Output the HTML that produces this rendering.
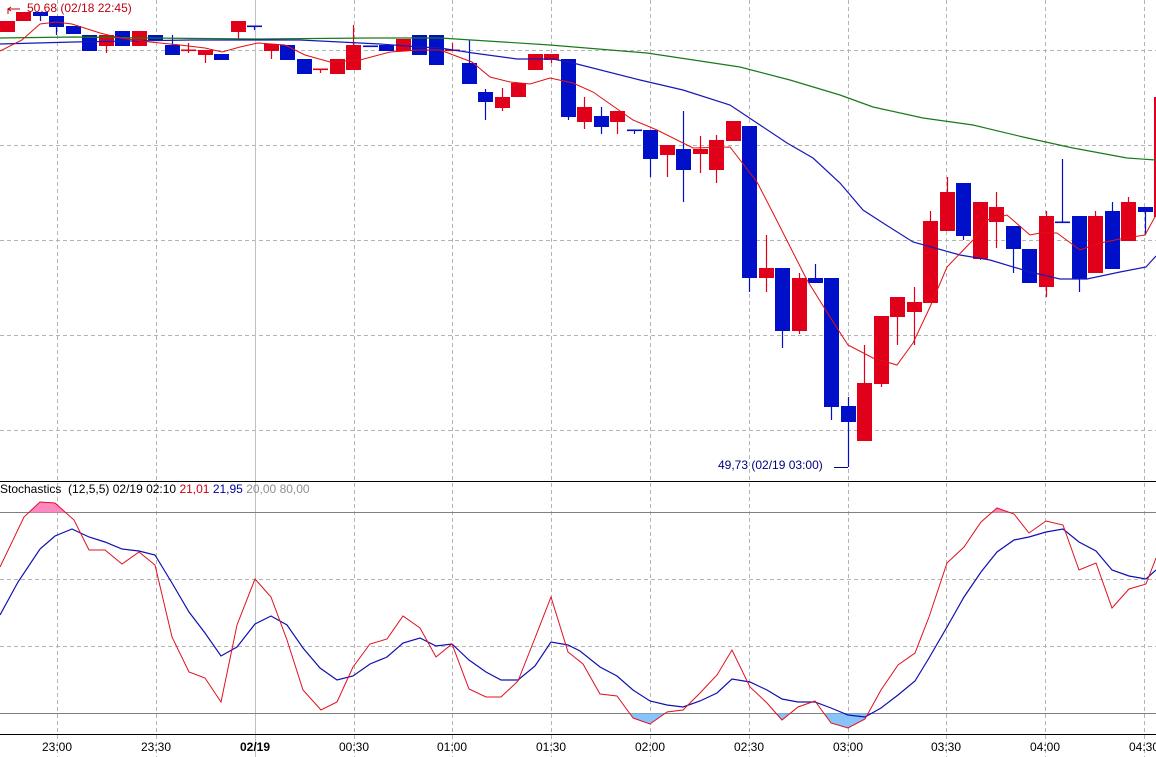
<!DOCTYPE html>
<html><head><meta charset="utf-8"><style>
html,body{margin:0;padding:0;background:#fff;overflow:hidden}
svg{display:block}
text{font-family:"Liberation Sans","DejaVu Sans",sans-serif}
</style></head><body>
<svg id="s" width="1156" height="757" viewBox="0 0 1156 757" xmlns="http://www.w3.org/2000/svg">
<rect width="1156" height="757" fill="#fff"/>
<g id="grid" stroke="#b4b4b4" stroke-width="1" stroke-dasharray="4,3" fill="none">
<line x1="0" y1="50.5" x2="1156" y2="50.5"/>
<line x1="0" y1="145.5" x2="1156" y2="145.5"/>
<line x1="0" y1="240.5" x2="1156" y2="240.5"/>
<line x1="0" y1="335.5" x2="1156" y2="335.5"/>
<line x1="0" y1="430.5" x2="1156" y2="430.5"/>
<line x1="0" y1="579.5" x2="1156" y2="579.5"/>
<line x1="0" y1="646.5" x2="1156" y2="646.5"/>
</g>
<g id="vg"></g>
<line x1="0" y1="512.5" x2="1156" y2="512.5" stroke="#808080"/>
<line x1="0" y1="713.5" x2="1156" y2="713.5" stroke="#808080"/>
<g id="fills"></g>
<g id="candles"></g>
<g id="lines" fill="none"></g>
<line x1="0" y1="481.5" x2="1156" y2="481.5" stroke="#000"/>
<line x1="0" y1="734.5" x2="1156" y2="734.5" stroke="#000"/>
<text x="0" y="493" font-size="12" fill="#000">Stochastics&#160; (12,5,5) 02/19 02:10 <tspan fill="#d00010">21,01</tspan> <tspan fill="#0000a0">21,95</tspan> <tspan fill="#909090">20,00 80,00</tspan></text>
<path d="M8,14 V9 H20" stroke="#c00010" fill="none"/>
<path d="M11,7 L8,9 L11,11" stroke="#c00010" fill="none"/>
<text x="27" y="12" font-size="12" fill="#c00010">50,68 (02/18 22:45)</text>
<text x="718" y="469" font-size="12" fill="#000080">49,73 (02/19 03:00)</text>
<path d="M834,467.5 H848" stroke="#000080"/>
<g id="labels" font-size="12" fill="#000" text-anchor="middle"></g>
</svg>
<script>
var NS="http://www.w3.org/2000/svg";
function el(p,t,a){var e=document.createElementNS(NS,t);for(var k in a)e.setAttribute(k,a[k]);p.appendChild(e);return e;}
var gx=[57,156,255,354,452,551,650,749,848,946,1045,1144];
var vg=document.getElementById('vg');
gx.forEach(function(x,i){
 if(i==2) el(vg,'line',{x1:x+.5,y1:0,x2:x+.5,y2:757,stroke:'#c0c0c0'});
 else el(vg,'line',{x1:x+.5,y1:0,x2:x+.5,y2:757,stroke:'#b4b4b4','stroke-dasharray':'4,3'});
});
var lab=["23:00","23:30","02/19","00:30","01:00","01:30","02:00","02:30","03:00","03:30","04:00","04:30"];
var lg=document.getElementById('labels');
gx.forEach(function(x,i){var t=el(lg,'text',{x:x,y:751});t.textContent=lab[i];if(i==2)t.setAttribute('font-weight','bold');});
var R="#e0001a",B="#0010c8";
var C=[
['r',21,32],['r',12,21],['b',12,16,12,21],['b',16,27,16,35],['b',26,34],['b',35,51],['r',35,46,35,53],['b',31,46],['r',31,46],['b',35,40],
['b',45,55,35,55],['r',50,50,43,53],['r',50,55,50,63],['b',54,60],['r',21,32,21,39],['b',26,26,26,30],['r',44,51,44,59],['b',45,60],['b',59,74],['r',69,69,69,73],
['r',59,74],['r',45,70,25,70],['b',46,46],['b',45,51],['r',39,51],['b',35,55],['b',35,65],['r',50,50,43,50],['b',63,84,40,84],['b',92,102,89,120],
['r',97,108,88,111],['r',83,97],['r',54,70],['r',54,60,54,63],['b',59,117,59,120],['r',107,122,97,129],['b',116,127,107,134],['r',111,122,111,134],['b',130,130,130,134],['b',130,159,130,177],
['r',145,155,145,177],['b',149,170,111,202],['r',149,154,136,173],['r',140,170,135,183],['r',121,141],['b',126,278,126,292],['r',268,278,235,292],['b',268,331,268,348],['r',278,331,273,334],['b',278,283,264,283],
['b',278,407,278,420],['b',406,422,397,467],['r',383,441,345,441],['r',316,384,316,387],['r',297,317,297,345],['r',302,312,287,345],['r',221,303,211,303],['r',192,231,177,231],['b',183,236,183,240],['r',202,259,202,260],
['r',207,222,192,248],['b',226,249,226,273],['b',249,283],['r',216,287,211,297],['b',222,222,159,222],['b',216,279,216,292],['r',216,273,211,273],['b',211,269,202,269],['r',202,241,197,241],['b',207,212,207,235],
['r',97,217]];
var cg=document.getElementById('candles');
C.forEach(function(c,i){
 var cx=Math.round(7+16.49*i),col=c[0]=='r'?R:B;
 var wt=c.length>3?c[3]:c[1],wb=c.length>3?c[4]:c[2];
 if(wt<c[1]||wb>c[2]) el(cg,'line',{x1:cx+.5,y1:wt,x2:cx+.5,y2:wb,stroke:col,'stroke-width':1.2});
 var h=c[2]-c[1];
 if(h<2) el(cg,'rect',{x:cx-7,y:c[1]-.5,width:15,height:1.6,fill:col});
 else el(cg,'rect',{x:cx-7,y:c[1],width:15,height:h,fill:col});
});
function pl(pts,col,w){var g=document.getElementById('lines');el(g,'polyline',{points:pts.map(function(p){return p.join(',')}).join(' '),stroke:col,'stroke-width':w||1,fill:'none'});}
var green=[[0,38],[74,37],[148,38],[259,39],[370,38],[440,38],[550,45],[647,53],[740,67],[790,80],[840,95],[873,107],[923,118],[973,125],[1023,137],[1073,148],[1127,158],[1156,160]];
var blue=[[0,44],[74,42],[190,40],[300,40],[340,42],[380,44],[420,47],[440,48],[473,53],[517,59],[553,59],[573,63],[640,80],[683,90],[730,105],[757,123],[787,143],[813,158],[840,183],[863,210],[883,223],[913,242],[960,255],[990,260],[1030,272],[1060,279],[1087,279],[1120,272],[1146,267],[1156,256]];
var red=[[0,51],[22,40],[40,24],[56,22],[72,24],[100,33],[120,38],[150,42],[180,45],[205,48],[222,52],[240,47],[258,43],[285,45],[305,55],[330,62],[360,60],[390,52],[420,50],[440,50],[472,62],[490,77],[510,82],[530,84],[550,78],[573,83],[593,92],[633,120],[657,130],[693,148],[730,147],[757,182],[773,213],[807,280],[830,317],[848,345],[873,358],[897,365],[913,343],[930,307],[947,267],[973,240],[987,220],[1007,215],[1030,235],[1040,233],[1057,233],[1080,250],[1100,243],[1120,239],[1145,235],[1156,215]];
pl(green,'#1a7a1a',1.2);pl(blue,'#1818b8',1.2);pl(red,'#e01010',1);
var sk=[[0,567],[24,517],[40,502],[55,503],[74,520],[89,550],[105,550],[122,564],[139,552],[155,565],[172,637],[189,672],[205,678],[221,702],[237,625],[255,579],[271,597],[287,640],[303,690],[321,710],[337,702],[353,667],[370,644],[387,639],[403,616],[420,628],[436,657],[452,644],[469,689],[486,697],[501,697],[518,681],[535,638],[551,597],[568,652],[583,664],[600,694],[617,696],[633,718],[650,724],[667,712],[683,710],[700,693],[717,675],[732,650],[750,687],[767,703],[782,720],[798,707],[815,701],[831,723],[848,728],[865,719],[881,690],[898,665],[915,653],[929,617],[947,563],[964,547],[981,522],[997,508],[1014,514],[1029,533],[1046,521],[1063,525],[1079,570],[1096,563],[1112,608],[1129,589],[1146,584],[1156,558]];
var sd=[[0,615],[18,582],[40,549],[55,536],[72,529],[89,537],[105,542],[122,549],[139,551],[155,555],[172,583],[189,612],[205,633],[221,656],[237,647],[255,624],[271,616],[287,625],[303,648],[320,668],[337,680],[353,676],[370,664],[387,657],[403,643],[420,638],[436,646],[452,644],[469,660],[486,672],[501,680],[518,680],[535,666],[551,642],[568,645],[580,651],[600,667],[617,676],[633,690],[650,701],[667,705],[683,707],[700,701],[717,693],[732,679],[750,682],[767,690],[782,699],[798,702],[815,702],[831,708],[848,715],[865,717],[881,708],[898,695],[915,681],[929,658],[947,627],[964,597],[981,572],[997,552],[1014,540],[1029,537],[1046,532],[1063,529],[1079,542],[1096,551],[1112,570],[1129,576],[1146,579],[1156,570]];
var fg=document.getElementById('fills');
var defs=el(fg,'defs',{});
var c1=el(defs,'clipPath',{id:'ca'});el(c1,'rect',{x:0,y:0,width:1156,height:512.5});
var c2=el(defs,'clipPath',{id:'cb'});el(c2,'rect',{x:0,y:713.5,width:1156,height:21});
var ps=sk.map(function(p){return p.join(',')}).join(' ');
el(fg,'polygon',{points:ps+' 1156,757 0,757',fill:'#ff88c0','clip-path':'url(#ca)'});
el(fg,'polygon',{points:ps+' 1156,482 0,482',fill:'#88c4f8','clip-path':'url(#cb)'});
pl(sd,'#1010b0',1.2);pl(sk,'#e01020',1);
</script>
</body></html>
